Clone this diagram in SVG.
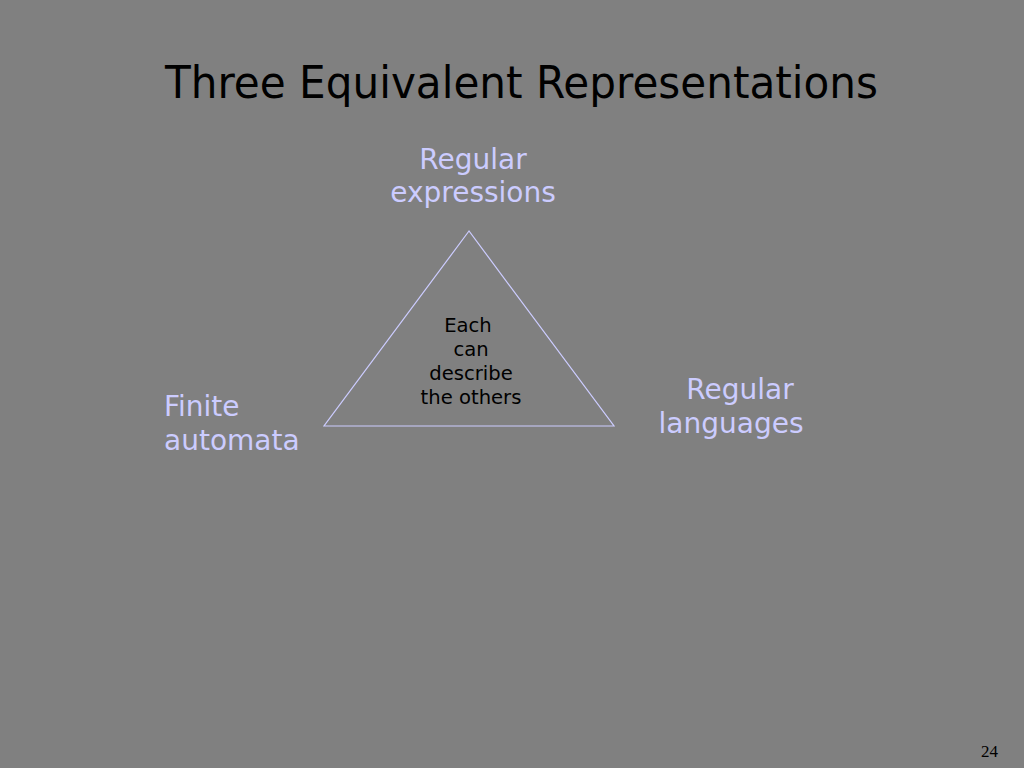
<svg xmlns="http://www.w3.org/2000/svg" width="1024" height="768" viewBox="0 0 1024 768">
<style>
.lbl{font-family:"DejaVu Sans","Liberation Sans",sans-serif;font-size:28px;fill:#CCCCFF}
.inner{font-family:"DejaVu Sans","Liberation Sans",sans-serif;font-size:19.6px;fill:#000000;text-anchor:middle}
.title{font-family:"DejaVu Sans","Liberation Sans",sans-serif;font-size:44px;fill:#000000}
</style>
<rect x="0" y="0" width="1024" height="768" fill="#808080"/>
<text class="title" x="165" y="98" textLength="713" lengthAdjust="spacingAndGlyphs">Three Equivalent Representations</text>
<g id="connectors">
<polygon points="469,231 324,426 614,426" fill="none" stroke="#CCCCFF" stroke-width="1.2"/>
</g>
<g id="center-note">
<text class="inner" x="468" y="332">Each</text>
<text class="inner" x="471" y="356">can</text>
<text class="inner" x="471" y="380">describe</text>
<text class="inner" x="471" y="404">the others</text>
</g>
<g id="node-regex">
<text class="lbl" x="473" y="169" text-anchor="middle">Regular</text>
<text class="lbl" x="473" y="202" text-anchor="middle">expressions</text>
</g>
<g id="node-fa">
<text class="lbl" x="164" y="416">Finite</text>
<text class="lbl" x="164" y="450">automata</text>
</g>
<g id="node-lang">
<text class="lbl" x="740" y="399" text-anchor="middle">Regular</text>
<text class="lbl" x="731" y="433" text-anchor="middle">languages</text>
</g>
<text x="998" y="757" text-anchor="end" font-family="Liberation Serif,serif" font-size="17" fill="#000000">24</text>
</svg>
